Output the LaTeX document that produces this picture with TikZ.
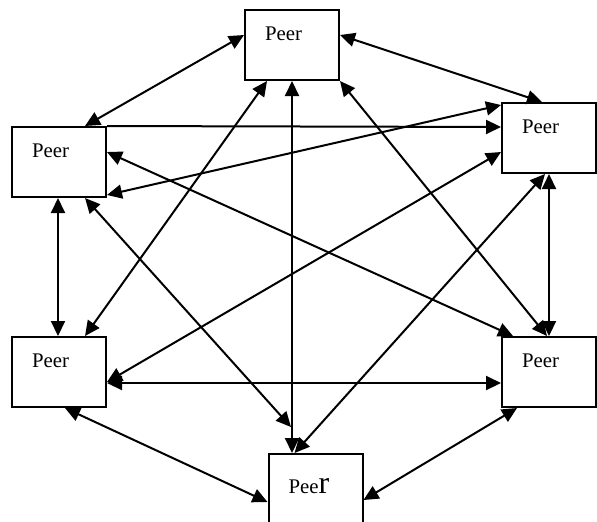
\documentclass[tikz,border=0pt]{standalone}
\usepackage{fontspec}
\setmainfont{Liberation Serif}
\usetikzlibrary{arrows.meta, calc}

\begin{document}
\begin{tikzpicture}[
        x=0.5pt, y=-0.5pt,
        font=\fontsize{10.4pt}{12pt}\selectfont,
        >={Triangle[length=7.5pt, width=7pt]},
        peer/.style={draw, rectangle, line width=1pt, inner xsep=10pt, inner ysep=0pt, text width=27pt, align=left, text height=15pt, text depth=20pt},
        link/.style={<->, line width=1pt},
        oneway/.style={->, line width=1pt}
    ]
    \useasboundingbox (0,0) rectangle (597,521);

    \node[peer] (top) at (292,45) {Peer};
    \node[peer] (tl) at (59,162) {Peer};
    \node[peer] (tr) at (549,138) {Peer};
    \node[peer] (bl) at (59,372) {Peer};
    \node[peer] (br) at (549,372) {Peer};
    \node[peer, text height=19.5pt, text depth=15.5pt] (bot) at (315.5,489) {Pee{\fontsize{16pt}{18pt}\selectfont r}};

    \draw[link] ($(top.west)+(0,-10)$) -- ($(tl.north)+(26,0)$);
    \draw[link] ($(top.east)+(0,-10)$) -- ($(tr.north)+(-7,0)$);
    \draw[link] ($(top.south)+(-25,0)$) -- ($(bl.north)+(26,0)$);
    \draw[link] (top.south) -- (top.south |- bot.north);
    \draw[link] (top.south east) -- ($(br.north)+(-2,0)$);
    \draw[oneway] (tl.north east) -- ($(tr.west)+(0,-11)$);
    \draw[link] ($(tl.east)+(0,-10)$) -- ($(br.north)+(-36,0)$);
    \draw[link] ($(tl.south)+(-1,0)$) -- ($(bl.north)+(-1,0)$);
    \draw[link] ($(tl.south)+(26,0)$) -- ($(bot.north)+(-24.5,-26)$);
    \draw[link] ($(tl.south east)+(0,-3)$) -- ($(tr.north west)+(0,3)$);
    \draw[link] ($(tr.west)+(0,14)$) -- ($(bl.east)+(0,10)$);
    \draw[link] (tr.south) -- (br.north);
    \draw[link] ($(tr.south)+(-4,0)$) -- ($(bot.north)+(-21,0)$);
    \draw[link] ($(bl.east)+(0,11)$) -- ($(br.west)+(0,11)$);
    \draw[link] ($(bl.south)+(6,0)$) -- ($(bot.west)+(0,13)$);
    \draw[link] ($(br.south)+(-32,0)$) -- ($(bot.east)+(0,11)$);

\end{tikzpicture}
\end{document}
